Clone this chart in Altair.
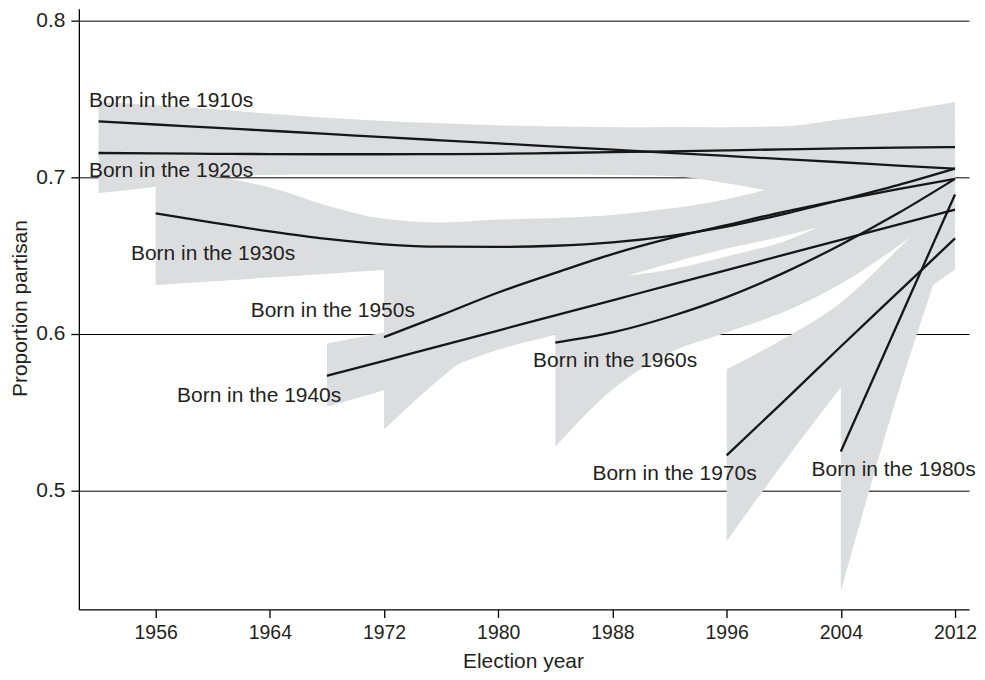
import altair as alt
import pandas as pd

# ---- data ----
YEARS_1910S = [1952, 1956, 1960, 1964, 1968, 1972, 1976, 1980, 1984, 1988, 1992, 1996, 2000, 2004, 2008, 2012]
EST_1910S = [0.7357, 0.7337, 0.7317, 0.7297, 0.7277, 0.7256, 0.7236, 0.7216, 0.7196, 0.7176, 0.7156, 0.7136, 0.7116, 0.7096, 0.7075, 0.7055]
LO_1910S = [0.722, 0.720, 0.718, 0.716, 0.714, 0.712, 0.710, 0.708, 0.706, 0.704, 0.702, 0.700, 0.698, 0.696, 0.694, 0.692]
HI_1910S = [0.748, 0.746, 0.7435, 0.7405, 0.738, 0.736, 0.7345, 0.7332, 0.7324, 0.7320, 0.7318, 0.7315, 0.731, 0.729, 0.727, 0.724]

YEARS_1920S = [1952, 1956, 1960, 1964, 1968, 1972, 1976, 1980, 1984, 1988, 1992, 1996, 2000, 2004, 2008, 2012]
EST_1920S = [0.7155, 0.7152, 0.7150, 0.7148, 0.7147, 0.7147, 0.7148, 0.7150, 0.7155, 0.7160, 0.7166, 0.7172, 0.7178, 0.7184, 0.7189, 0.7193]
LO_1920S = [0.690, 0.694, 0.700, 0.7015, 0.7017, 0.7018, 0.7018, 0.7018, 0.7017, 0.7015, 0.7008, 0.6962, 0.690, 0.688, 0.690, 0.695]
HI_1920S = [0.726, 0.726, 0.726, 0.726, 0.727, 0.728, 0.729, 0.730, 0.731, 0.7316, 0.732, 0.732, 0.7325, 0.737, 0.742, 0.748]

YEARS_1930S = [1956, 1960, 1964, 1968, 1972, 1976, 1980, 1984, 1988, 1992, 1996, 2000, 2004, 2008, 2012]
EST_1930S = [0.677, 0.671, 0.6655, 0.6607, 0.6572, 0.6557, 0.6556, 0.6563, 0.6585, 0.6625, 0.6685, 0.6765, 0.6855, 0.695, 0.7055]
LO_1930S = [0.6312, 0.6336, 0.636, 0.6384, 0.6408, 0.643, 0.645, 0.648, 0.652, 0.656, 0.660, 0.666, 0.675, 0.685, 0.695]
HI_1930S = [0.701, 0.700, 0.6935, 0.682, 0.6735, 0.6712, 0.673, 0.674, 0.676, 0.680, 0.686, 0.695, 0.705, 0.716, 0.728]

YEARS_1940S = [1968, 1972, 1976, 1980, 1984, 1988, 1992, 1996, 2000, 2004, 2008, 2012]
EST_1940S = [0.5733, 0.5829, 0.5926, 0.6022, 0.6119, 0.6215, 0.6312, 0.6408, 0.6505, 0.6601, 0.6698, 0.6794]
LO_1940S = [0.5537, 0.5643, 0.577, 0.590, 0.5995, 0.609, 0.619, 0.629, 0.640, 0.650, 0.660, 0.668]
HI_1940S = [0.594, 0.601, 0.608, 0.617, 0.626, 0.6355, 0.641, 0.6495, 0.659, 0.674, 0.684, 0.695]

YEARS_1950S = [1972, 1976, 1980, 1984, 1988, 1992, 1996, 2000, 2004, 2008, 2012]
EST_1950S = [0.598, 0.612, 0.6265, 0.639, 0.651, 0.661, 0.6695, 0.678, 0.6855, 0.6925, 0.699]
LO_1950S = [0.539, 0.572, 0.600, 0.620, 0.634, 0.645, 0.6545, 0.6625, 0.672, 0.680, 0.688]
HI_1950S = [0.650, 0.658, 0.664, 0.668, 0.672, 0.677, 0.683, 0.692, 0.700, 0.708, 0.716]

YEARS_1960S = [1984, 1988, 1992, 1996, 2000, 2004, 2008, 2012]
EST_1960S = [0.5945, 0.601, 0.611, 0.6235, 0.639, 0.657, 0.677, 0.699]
LO_1960S = [0.528, 0.5645, 0.588, 0.601, 0.614, 0.632, 0.656, 0.683]
HI_1960S = [0.612, 0.625, 0.636, 0.646, 0.655, 0.670, 0.690, 0.712]

YEARS_1970S = [1996, 2000, 2004, 2008, 2012]
EST_1970S = [0.5225, 0.557, 0.592, 0.6265, 0.661]
LO_1970S = [0.4677, 0.518, 0.566, 0.612, 0.641]
HI_1970S = [0.5775, 0.597, 0.620, 0.654, 0.690]

YEARS_1980S = [2004, 2008, 2012]
EST_1980S = [0.525, 0.607, 0.689]
LO_1980S = [0.436, 0.562, 0.672]
HI_1980S = [0.5665, 0.640, 0.720]

COHORTS = ["1910s", "1920s", "1930s", "1940s", "1950s", "1960s", "1970s", "1980s"]
LABELS = ["Born in the " + c for c in COHORTS]
LABEL_YEAR = [1957.08, 1957.08, 1960.02, 1963.25, 1968.41, 1988.19, 1992.35, 2007.70]
LABEL_VALUE = [0.7448, 0.7002, 0.6471, 0.5569, 0.6106, 0.5792, 0.5070, 0.5091]

X_TICKS = [1956, 1964, 1972, 1980, 1988, 1996, 2004, 2012]
Y_TICKS = [0.5, 0.6, 0.7, 0.8]

# ---- build table ----
series = [
    (YEARS_1910S, EST_1910S, LO_1910S, HI_1910S),
    (YEARS_1920S, EST_1920S, LO_1920S, HI_1920S),
    (YEARS_1930S, EST_1930S, LO_1930S, HI_1930S),
    (YEARS_1940S, EST_1940S, LO_1940S, HI_1940S),
    (YEARS_1950S, EST_1950S, LO_1950S, HI_1950S),
    (YEARS_1960S, EST_1960S, LO_1960S, HI_1960S),
    (YEARS_1970S, EST_1970S, LO_1970S, HI_1970S),
    (YEARS_1980S, EST_1980S, LO_1980S, HI_1980S),
]
rows = []
for name, (yrs, est, lo, hi) in zip(COHORTS, series):
    for y, e, l, h in zip(yrs, est, lo, hi):
        rows.append({"cohort": name, "year": y, "est": e, "lo": l, "hi": h})
df = pd.DataFrame(rows)
lab = pd.DataFrame({"label": LABELS, "year": LABEL_YEAR, "est": LABEL_VALUE})

FONT = "Liberation Sans"
INK = "#231f20"
GRAY = "#dcdddf"

xscale = alt.Scale(domain=[1950.62, 2012.98], nice=False, zero=False)
yscale = alt.Scale(domain=[0.4242, 0.8076], nice=False, zero=False)

xaxis = alt.Axis(values=X_TICKS, format="d", title="Election year", grid=False,
                 labelFontSize=19.5, labelPadding=6, titleX=445, titleY=52,
                 titleAlign="center", titleBaseline="middle")
yaxis = alt.Axis(values=Y_TICKS, format=".1f", title="Proportion partisan", grid=True,
                 labelPadding=6, titleX=-58, titleY=300, titleAngle=270,
                 titleAlign="center", titleBaseline="middle")

X = alt.X("year:Q", scale=xscale, axis=xaxis)

bands = alt.Chart(df).mark_area(color=GRAY, opacity=1, interpolate="monotone").encode(
    x=X,
    y=alt.Y("lo:Q", scale=yscale, axis=yaxis),
    y2="hi:Q",
    detail="cohort:N",
)
lines = alt.Chart(df).mark_line(color="#161616", strokeWidth=2.3, interpolate="monotone").encode(
    x=X,
    y=alt.Y("est:Q", scale=yscale, axis=yaxis),
    detail="cohort:N",
)
labels = alt.Chart(lab).mark_text(font=FONT, fontSize=21, color=INK, align="center",
                                  baseline="alphabetic").encode(
    x=X,
    y=alt.Y("est:Q", scale=yscale, axis=yaxis),
    text="label:N",
)

chart = alt.layer(bands, lines, labels).properties(
    width=892, height=602,
    autosize=alt.AutoSizeParams(type="none"),
    padding={"left": 71, "top": 0, "right": 8, "bottom": 62},
).configure_view(stroke="transparent").configure_axis(
    domainColor="#000", domainWidth=1.3, tickColor="#000", tickWidth=1.3, tickSize=8,
    labelFont=FONT, labelFontSize=21, labelColor=INK,
    titleFont=FONT, titleFontSize=21, titleFontWeight="normal", titleColor=INK,
    gridColor="#000", gridWidth=1, gridOpacity=1,
)

chart.save("out.html", embed_options={"renderer": "svg", "actions": False})
